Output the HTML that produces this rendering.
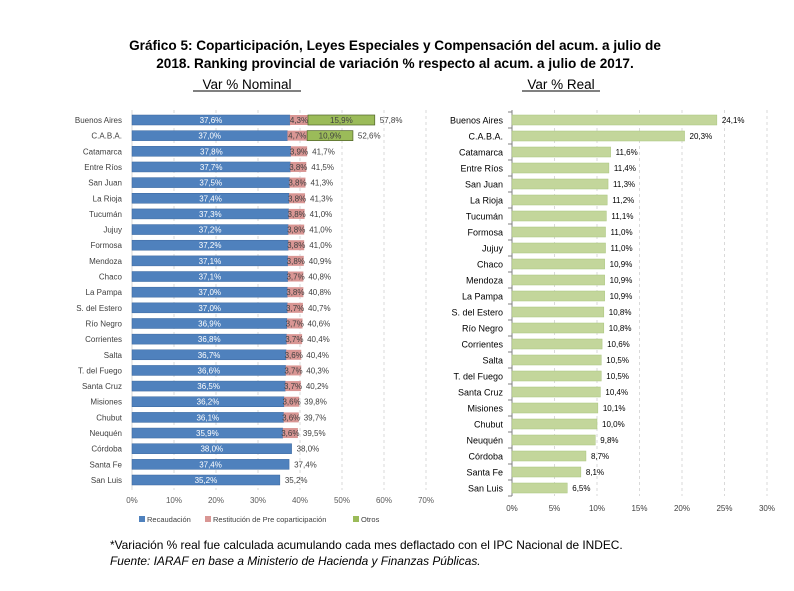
<!DOCTYPE html>
<html><head><meta charset="utf-8"><style>
body{margin:0;background:#fff;width:794px;height:586px;overflow:hidden;font-family:"Liberation Sans",sans-serif}
</style></head><body>
<svg id="s" width="794" height="586" xmlns="http://www.w3.org/2000/svg" font-family="Liberation Sans, sans-serif">
<text x="395" y="50" text-anchor="middle" font-size="13.6" font-weight="bold">Gráfico 5: Coparticipación, Leyes Especiales y Compensación del acum. a julio de</text>
<text x="395" y="68" text-anchor="middle" font-size="13.6" font-weight="bold">2018. Ranking provincial de variación % respecto al acum. a julio de 2017.</text>
<text x="247" y="89" text-anchor="middle" font-size="13.5">Var % Nominal</text>
<line x1="193" y1="91" x2="301" y2="91" stroke="#000"/>
<text x="561" y="89" text-anchor="middle" font-size="13.5">Var % Real</text>
<line x1="522" y1="91" x2="600" y2="91" stroke="#000"/>
<text x="110" y="549" font-size="11.9">*Variación % real fue calculada acumulando cada mes deflactado con el IPC Nacional de INDEC.</text>
<text x="110" y="565" font-size="11.9" font-style="italic">Fuente: IARAF en base a Ministerio de Hacienda y Finanzas Públicas.</text>
<g id="g"></g>
</svg>
<script>
var g=document.getElementById('g'),h='';
function f(v){return v.toFixed(1).replace('.',',')+'%';}
var L=[["Buenos Aires",37.6,4.3,15.9,57.8],["C.A.B.A.",37.0,4.7,10.9,52.6],["Catamarca",37.8,3.9,0,41.7],["Entre Ríos",37.7,3.8,0,41.5],["San Juan",37.5,3.8,0,41.3],["La Rioja",37.4,3.8,0,41.3],["Tucumán",37.3,3.8,0,41.0],["Jujuy",37.2,3.8,0,41.0],["Formosa",37.2,3.8,0,41.0],["Mendoza",37.1,3.8,0,40.9],["Chaco",37.1,3.7,0,40.8],["La Pampa",37.0,3.8,0,40.8],["S. del Estero",37.0,3.7,0,40.7],["Río Negro",36.9,3.7,0,40.6],["Corrientes",36.8,3.7,0,40.4],["Salta",36.7,3.6,0,40.4],["T. del Fuego",36.6,3.7,0,40.3],["Santa Cruz",36.5,3.7,0,40.2],["Misiones",36.2,3.6,0,39.8],["Chubut",36.1,3.6,0,39.7],["Neuquén",35.9,3.6,0,39.5],["Córdoba",38.0,0,0,38.0],["Santa Fe",37.4,0,0,37.4],["San Luis",35.2,0,0,35.2]];
var x0=132,k=4.2;
for(var i=1;i<=7;i++)h+='<line x1="'+(x0+i*10*k)+'" y1="110" x2="'+(x0+i*10*k)+'" y2="490" stroke="#d9d9d9" stroke-dasharray="3,3"/>';
h+='<line x1="'+x0+'" y1="110" x2="'+x0+'" y2="490" stroke="#d9d9d9"/>';
for(var i=0;i<=7;i++)h+='<text x="'+(x0+i*10*k)+'" y="503" font-size="8" fill="#595959" text-anchor="middle">'+(i*10)+'%</text>';
var dy=(480-120)/23;
L.forEach(function(r,i){var y=120+i*dy;var a=r[1]*k,b=r[2]*k,c=r[3]*k;
 h+='<text x="122" y="'+(y+3)+'" font-size="8" fill="#404040" text-anchor="end">'+r[0]+'</text>';
 h+='<rect x="'+x0+'" y="'+(y-5)+'" width="'+a+'" height="10" fill="#4f81bd" stroke="#3a679e" stroke-width="0.5"/>';
 h+='<text x="'+(x0+a/2)+'" y="'+(y+3)+'" font-size="8" fill="#fff" text-anchor="middle">'+f(r[1])+'</text>';
 if(b){h+='<rect x="'+(x0+a)+'" y="'+(y-5)+'" width="'+b+'" height="10" fill="#d99694"/>';
 h+='<text x="'+(x0+a+b/2)+'" y="'+(y+3)+'" font-size="8" fill="#404040" text-anchor="middle">'+f(r[2])+'</text>';}
 if(c){h+='<rect x="'+(x0+a+b)+'" y="'+(y-5)+'" width="'+c+'" height="10" fill="#9bbb59" stroke="#4f6228" stroke-width="0.7"/>';
 h+='<text x="'+(x0+a+b+c/2)+'" y="'+(y+3)+'" font-size="8" fill="#404040" text-anchor="middle">'+f(r[3])+'</text>';}
 h+='<text x="'+(x0+(r[1]+r[2]+r[3])*k+5)+'" y="'+(y+3)+'" font-size="8" fill="#404040">'+f(r[4])+'</text>';
});
h+='<rect x="139" y="516" width="6" height="6" fill="#4f81bd"/><text x="147" y="522" font-size="7.5" fill="#404040">Recaudación</text>';
h+='<rect x="205" y="516" width="6" height="6" fill="#d99694"/><text x="213" y="522" font-size="7.5" fill="#404040">Restitución de Pre coparticipación</text>';
h+='<rect x="353" y="516" width="6" height="6" fill="#9bbb59"/><text x="361" y="522" font-size="7.5" fill="#404040">Otros</text>';
var R=[["Buenos Aires",24.1],["C.A.B.A.",20.3],["Catamarca",11.6],["Entre Ríos",11.4],["San Juan",11.3],["La Rioja",11.2],["Tucumán",11.1],["Formosa",11.0],["Jujuy",11.0],["Chaco",10.9],["Mendoza",10.9],["La Pampa",10.9],["S. del Estero",10.8],["Río Negro",10.8],["Corrientes",10.6],["Salta",10.5],["T. del Fuego",10.5],["Santa Cruz",10.4],["Misiones",10.1],["Chubut",10.0],["Neuquén",9.8],["Córdoba",8.7],["Santa Fe",8.1],["San Luis",6.5]];
var X0=512,K=8.5;
for(var i=1;i<=6;i++)h+='<line x1="'+(X0+i*5*K)+'" y1="110" x2="'+(X0+i*5*K)+'" y2="496" stroke="#d9d9d9" stroke-dasharray="3,3"/>';
h+='<line x1="'+X0+'" y1="110" x2="'+X0+'" y2="496" stroke="#808080"/>';
for(var i=0;i<=24;i++)h+='<line x1="'+(X0-4)+'" y1="'+(112+i*16)+'" x2="'+X0+'" y2="'+(112+i*16)+'" stroke="#808080"/>';
for(var i=0;i<=6;i++)h+='<text x="'+(X0+i*5*K)+'" y="511" font-size="8" fill="#404040" text-anchor="middle">'+(i*5)+'%</text>';
R.forEach(function(r,i){var y=120+i*16;
 h+='<text x="503" y="'+(y+3.5)+'" font-size="9" fill="#000" text-anchor="end">'+r[0]+'</text>';
 h+='<rect x="'+X0+'" y="'+(y-5)+'" width="'+(r[1]*K)+'" height="10" fill="#c3d69b" stroke="#a8c47c" stroke-width="0.5"/>';
 h+='<text x="'+(X0+r[1]*K+5)+'" y="'+(y+3)+'" font-size="8" fill="#000">'+f(r[1])+'</text>';
});
g.innerHTML=h;
</script>
</body></html>
